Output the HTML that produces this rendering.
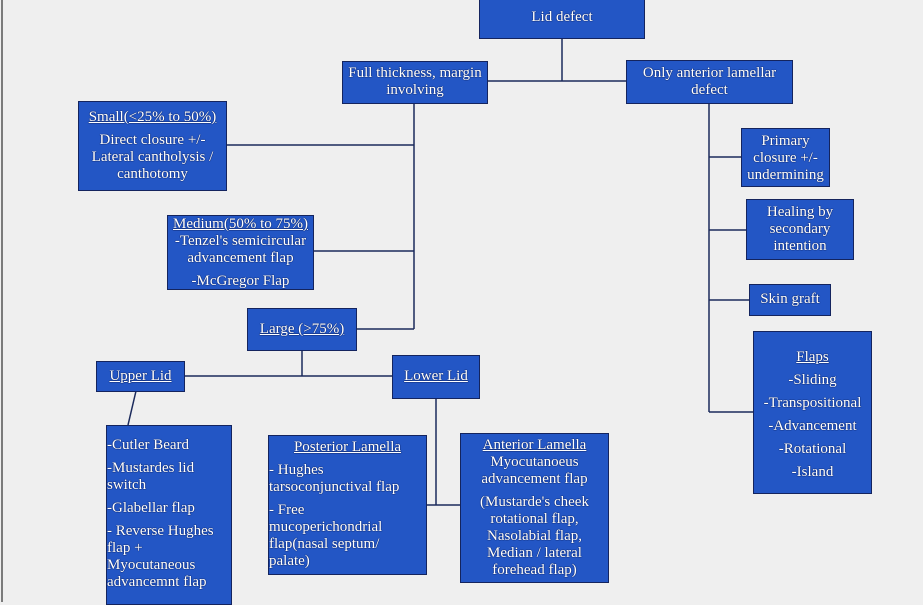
<!DOCTYPE html>
<html><head><meta charset="utf-8"><style>
html,body{margin:0;padding:0}
body{width:923px;height:602px;background:#efefef;position:relative;overflow:hidden;font-family:"Liberation Serif",serif;font-size:15px;color:#fff}
.b{position:absolute;background:#2356c5;border:1px solid #14245e;box-sizing:border-box;text-align:center;line-height:17px;text-shadow:0 0 1px #0a1a50,0 0 1px #0a1a50;white-space:nowrap}
.u{text-decoration:underline}
.l{text-align:left}
p{margin:0}
svg{position:absolute;left:0;top:0}
</style></head><body>
<svg width="923" height="602">
<g stroke="#1b2a5c" stroke-width="1.5" fill="none">
<line x1="2" y1="0" x2="2" y2="602" stroke="#555"/>
<line x1="562" y1="38" x2="562" y2="81"/>
<line x1="487" y1="81" x2="626" y2="81"/>
<line x1="414" y1="103" x2="414" y2="329"/>
<line x1="227" y1="145" x2="414" y2="145"/>
<line x1="314" y1="251" x2="414" y2="251"/>
<line x1="357" y1="329" x2="414" y2="329"/>
<line x1="185" y1="376" x2="392" y2="376"/>
<line x1="302" y1="350" x2="302" y2="376"/>
<line x1="136" y1="391" x2="128" y2="425"/>
<line x1="436" y1="398" x2="436" y2="505"/>
<line x1="427" y1="505" x2="460" y2="505"/>
<line x1="709" y1="103" x2="709" y2="412"/>
<line x1="709" y1="157" x2="741" y2="157"/>
<line x1="709" y1="230" x2="746" y2="230"/>
<line x1="709" y1="300" x2="749" y2="300"/>
<line x1="709" y1="412" x2="753" y2="412"/>
</g>
</svg>
<div class="b" style="left:479px;top:-1px;width:166px;height:40px;padding-top:9px">Lid defect</div>
<div class="b" style="left:342px;top:61px;width:146px;height:43px;padding-top:3px">Full thickness, margin<br>involving</div>
<div class="b" style="left:626px;top:60px;width:167px;height:44px;padding-top:4px">Only anterior lamellar<br>defect</div>
<div class="b" style="left:78px;top:101px;width:149px;height:90px;padding-top:7px"><p class="u">Small(&lt;25% to 50%)</p><p style="margin-top:6px">Direct closure +/-<br>Lateral cantholysis /<br>canthotomy</p></div>
<div class="b" style="left:167px;top:215px;width:147px;height:75px;padding-top:0px"><p class="u">Medium(50% to 75%)</p><p>-Tenzel's semicircular<br>advancement flap</p><p style="margin-top:6px">-McGregor Flap</p></div>
<div class="b" style="left:247px;top:308px;width:110px;height:43px;padding-top:12px"><span class="u">Large (&gt;75%)</span></div>
<div class="b" style="left:96px;top:361px;width:89px;height:31px;padding-top:6px"><span class="u">Upper Lid</span></div>
<div class="b" style="left:392px;top:355px;width:88px;height:44px;padding-top:12px"><span class="u">Lower Lid</span></div>
<div class="b l" style="left:106px;top:425px;width:126px;height:180px;padding-top:11px"><p>-Cutler Beard</p><p style="margin-top:6px">-Mustardes lid<br>switch</p><p style="margin-top:6px">-Glabellar flap</p><p style="margin-top:6px">- Reverse Hughes<br>flap +<br>Myocutaneous<br>advancemnt flap</p></div>
<div class="b" style="left:268px;top:435px;width:159px;height:140px;padding-top:3px"><p class="u">Posterior Lamella</p><p class="l" style="margin-top:6px">- Hughes<br>tarsoconjunctival flap</p><p class="l" style="margin-top:6px">- Free<br>mucoperichondrial<br>flap(nasal septum/<br>palate)</p></div>
<div class="b" style="left:460px;top:433px;width:149px;height:150px;padding-top:3px"><p class="u">Anterior Lamella</p><p>Myocutanoeus<br>advancement flap</p><p style="margin-top:6px">(Mustarde's cheek<br>rotational flap,<br>Nasolabial flap,<br>Median / lateral<br>forehead flap)</p></div>
<div class="b" style="left:741px;top:128px;width:89px;height:59px;padding-top:4px">Primary<br>closure +/-<br>undermining</div>
<div class="b" style="left:746px;top:199px;width:108px;height:61px;padding-top:4px">Healing by<br>secondary<br>intention</div>
<div class="b" style="left:749px;top:284px;width:82px;height:32px;padding-top:6px">Skin graft</div>
<div class="b" style="left:753px;top:331px;width:119px;height:163px;padding-top:14px;line-height:23px"><p class="u">Flaps</p><p>-Sliding</p><p>-Transpositional</p><p>-Advancement</p><p>-Rotational</p><p>-Island</p></div>
</body></html>
